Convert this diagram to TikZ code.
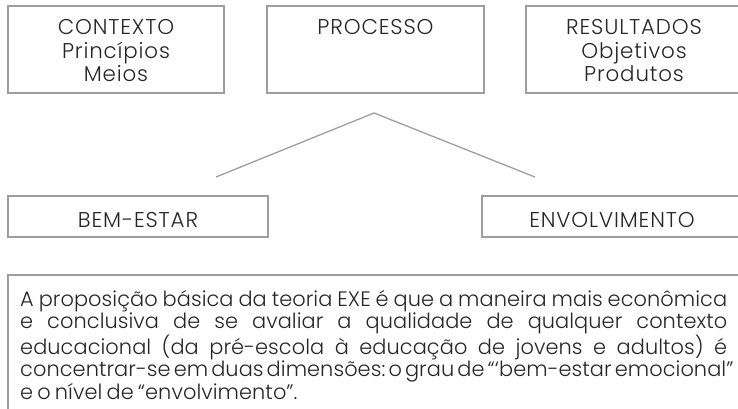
\documentclass[tikz,border=0pt]{standalone}
\usepackage{fontspec}
\setmainfont{Poppins Light}[LetterSpace=4]
\newfontfamily\notafont{Poppins Light}[LetterSpace=0.3]
\usetikzlibrary{positioning}
\definecolor{edgegrey}{RGB}{158,158,158}
\definecolor{inkgrey}{RGB}{38,38,38}
\newcommand{\justline}[1]{\makebox[\linewidth][s]{#1}}
\tikzset{
  box/.style={draw=edgegrey, line width=1.3pt, inner sep=0pt},
  lbl/.style={text=inkgrey, inner sep=0pt, align=center, font=\fontsize{21.4}{23.6}\selectfont},
  link/.style={draw=edgegrey, line width=1.3pt},
}

\begin{document}
\begin{tikzpicture}[x=1pt, y=-1pt]
    \useasboundingbox (0,0) rectangle (738,409);

    \draw(116,49.5) node[box, minimum width=216pt, minimum height=87pt] (ctx) {};
    \draw(375.5,49.5) node[box, minimum width=217pt, minimum height=87pt] (proc) {};
    \draw(634,49.5) node[box, minimum width=216pt, minimum height=87pt] (res) {};
    \node[lbl, below=14pt of ctx.north] (ctxtext) {CONTEXTO\\Princípios\\Meios};
    \node[lbl, below=14pt of proc.north] (proctext) {PROCESSO};
    \node[lbl, below=14pt of res.north] (restext) {RESULTADOS\\Objetivos\\Produtos};

    \coordinate (apex) at (374,113);
    \coordinate (leftend) at (216,177);
    \coordinate (rightend) at (535,177);
    \draw[link] (leftend) -- (apex) -- (rightend);

    \draw(138,216.5) node[box, minimum width=260pt, minimum height=41pt] (bem) {};
    \draw(612,216.5) node[box, minimum width=260pt, minimum height=41pt] (env) {};
    \draw(bem.south) ++(0,-10.3) node[lbl, anchor=base] (bemtext) {BEM-ESTAR};
    \draw(env.south) ++(0,-10.3) node[lbl, anchor=base] (envtext) {ENVOLVIMENTO};

    % caixa de texto, cortada na margem
    \draw[box] (8,275) rectangle (746,420);
    \draw(20,306.5) node[lbl, anchor=base west, align=left] (nota) {\parbox[t]{707pt}{%
        \notafont\fontsize{20.9}{20.8}\selectfont
        \spaceskip=0.2em plus 1em minus 0.05em \xspaceskip=\spaceskip
        \justline{A proposição básica da teoria EXE é que a maneira mais econômica}\\
        \justline{e conclusiva de se avaliar a qualidade de qualquer contexto}\\
        \justline{educacional (da pré-escola à educação de jovens e adultos) é}\\
        \justline{concentrar-se em duas dimensões: o grau de “‘bem-estar emocional”}\\
        e o nível de “envolvimento”.}};

\end{tikzpicture}
\end{document}
